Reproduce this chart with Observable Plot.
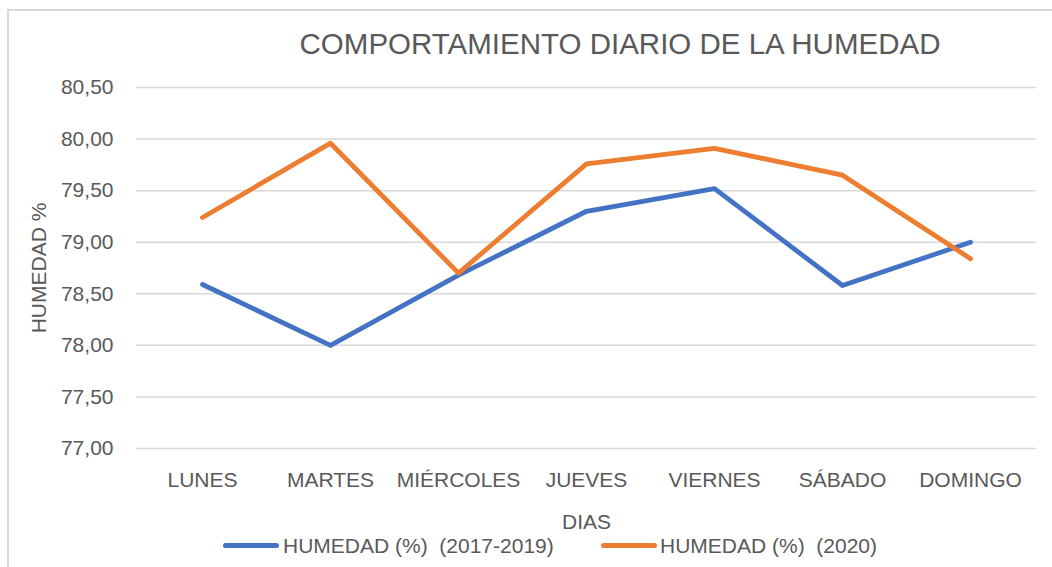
<!DOCTYPE html>
<html>
<head>
<meta charset="utf-8">
<script src="https://cdn.jsdelivr.net/npm/d3@7"></script>
<script src="https://cdn.jsdelivr.net/npm/@observablehq/plot@0.6"></script>
<style>
  html, body { margin: 0; padding: 0; background: #fff; }
  #wrap { position: relative; width: 1052px; height: 567px; overflow: hidden; font-family: "Liberation Sans", Arial, sans-serif; color: #595959; }
  #border { position: absolute; left: 7px; top: 9px; width: 1100px; height: 600px; border-left: 2px solid #d9d9d9; border-top: 2px solid #d9d9d9; box-sizing: border-box; }
  #title { position: absolute; top: 29px; left: 620px; transform: translateX(-50%); font-size: 29.5px; line-height: 29.5px; white-space: nowrap; }
  #chart { position: absolute; left: 0; top: 0; }
  .lg-sw { position: absolute; height: 5px; border-radius: 3px; top: 543px; width: 56px; }
  .lg-tx { position: absolute; top: 535px; font-size: 21px; line-height: 21px; white-space: pre; }
</style>
</head>
<body>
<div id="wrap">
  <div id="border"></div>
  <div id="chart"></div>
  <div id="title"></div>
  <div id="legend"></div>
</div>
<script>
const title = "COMPORTAMIENTO DIARIO DE LA HUMEDAD";
const days = ["LUNES", "MARTES", "MIÉRCOLES", "JUEVES", "VIERNES", "SÁBADO", "DOMINGO"];
const seriesNames = ["HUMEDAD (%)  (2017-2019)", "HUMEDAD (%)  (2020)"];
const humedad2017_2019 = [78.59, 78.00, 78.68, 79.30, 79.52, 78.58, 79.00];
const humedad2020 = [79.24, 79.96, 78.70, 79.76, 79.91, 79.65, 78.84];
const yTicks = [77.0, 77.5, 78.0, 78.5, 79.0, 79.5, 80.0, 80.5];
const colors = ["#4472C4", "#ED7D31"];
const xLabel = "DIAS";
const yLabel = "HUMEDAD %";

const data = [];
[humedad2017_2019, humedad2020].forEach((vals, i) => {
  days.forEach((d, j) => data.push({ serie: seriesNames[i], dia: d, valor: vals[j] }));
});

const fmt = v => d3.format(".2f")(v).replace(".", ",");

const plot = Plot.plot({
  width: 1052,
  height: 567,
  marginLeft: 136,
  marginRight: 16,
  marginTop: 87,
  marginBottom: 119,
  style: { fontFamily: "Liberation Sans, Arial, sans-serif", fontSize: "21px", color: "#595959", background: "transparent" },
  x: { type: "point", domain: days, padding: 0.5 },
  y: { domain: [77, 80.5] },
  color: { domain: seriesNames, range: colors },
  marks: [
    Plot.gridY(yTicks, { stroke: "#d9d9d9", strokeOpacity: 1, strokeWidth: 1.5 }),
    Plot.axisY(yTicks, { tickSize: 0, tickPadding: 23, tickFormat: fmt, label: yLabel, labelAnchor: "center", labelArrow: "none", labelOffset: 105, fill: "#595959" }),
    Plot.axisX({ tickSize: 0, tickPadding: 24, label: xLabel, labelAnchor: "center", labelArrow: "none", labelOffset: 80, fill: "#595959" }),
    Plot.lineY(data, { x: "dia", y: "valor", z: "serie", stroke: "serie", strokeWidth: 4.8, strokeLinecap: "round", strokeLinejoin: "round" })
  ]
});
document.getElementById("chart").appendChild(plot);
document.getElementById("title").textContent = title;

const legend = document.getElementById("legend");
const swX = [223, 601];
const txX = [283, 660];
seriesNames.forEach((name, i) => {
  const sw = document.createElement("div");
  sw.className = "lg-sw";
  sw.style.left = swX[i] + "px";
  sw.style.background = colors[i];
  legend.appendChild(sw);
  const tx = document.createElement("div");
  tx.className = "lg-tx";
  tx.style.left = txX[i] + "px";
  tx.textContent = name;
  legend.appendChild(tx);
});
</script>
</body>
</html>
